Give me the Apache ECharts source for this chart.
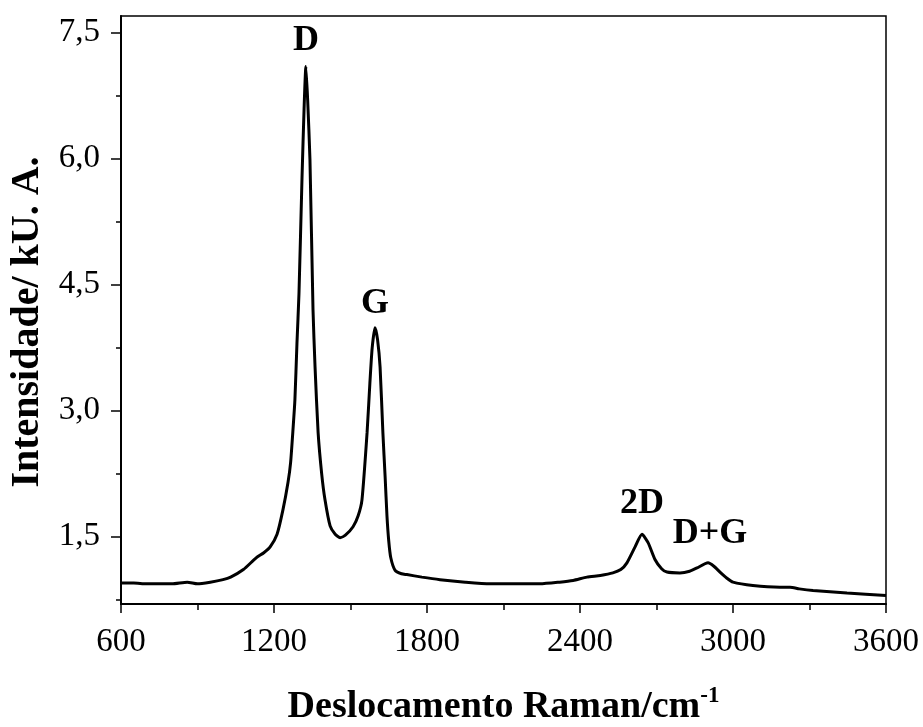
<!DOCTYPE html>
<html>
<head>
<meta charset="utf-8">
<script src="https://cdn.jsdelivr.net/npm/echarts@6/dist/echarts.min.js"></script>
<style>
  html, body { margin: 0; padding: 0; background: #fff; }
  #ramanChart { width: 923px; height: 727px; }
</style>
</head>
<body>
<div id="ramanChart"></div>
<script>
// Espectro Raman
const ramanShift = [600, 650, 700, 750, 800, 860, 900, 950, 1000, 1030, 1080, 1130, 1160, 1185,
  1212, 1235, 1255, 1265, 1275, 1282, 1290, 1298, 1310, 1318, 1325, 1332, 1341, 1353, 1361,
  1373, 1387, 1400, 1420, 1440, 1459, 1480, 1510, 1530, 1545, 1565, 1576, 1585, 1596, 1606,
  1616, 1627, 1636, 1643, 1650, 1658, 1675, 1700, 1721, 1780, 1851, 1950, 2047, 2150, 2243,
  2320, 2373, 2427, 2480, 2529, 2560, 2584, 2616, 2643, 2667, 2694, 2720, 2741, 2792, 2830,
  2859, 2902, 2925, 2949, 2975, 3000, 3078, 3184, 3224, 3260, 3314, 3447, 3600];
const intensity = [0.95, 0.95, 0.94, 0.94, 0.94, 0.96, 0.94, 0.96, 0.99, 1.02, 1.11, 1.25, 1.31, 1.38,
  1.53, 1.82, 2.15, 2.38, 2.80, 3.13, 3.80, 4.40, 5.79, 6.60, 7.10, 6.70, 5.99, 4.20, 3.52,
  2.74, 2.25, 1.94, 1.63, 1.53, 1.49, 1.52, 1.62, 1.75, 1.94, 2.74, 3.33, 3.75, 3.99, 3.85,
  3.52, 2.74, 2.20, 1.75, 1.45, 1.25, 1.10, 1.06, 1.05, 1.02, 0.99, 0.96, 0.94, 0.94, 0.94,
  0.96, 0.98, 1.02, 1.04, 1.07, 1.11, 1.19, 1.38, 1.53, 1.43, 1.23, 1.12, 1.08, 1.07, 1.09,
  1.13, 1.19, 1.15, 1.08, 1.01, 0.96, 0.92, 0.90, 0.90, 0.88, 0.86, 0.83, 0.80];

// rótulos das bandas (ponto = base do texto)
const peakNames = ['D', 'G', '2D', 'D+G'];
const peakX = [1325, 1596, 2643, 2910];
const peakY = [7.19, 4.05, 1.67, 1.32];

const yMajor = [1.5, 3.0, 4.5, 6.0, 7.5];
const yMinor = [0.75, 2.25, 3.75, 5.25, 6.75];

const serif = 'Liberation Serif';
var chart = echarts.init(document.getElementById('ramanChart'));

let line = [];
for (let i = 0; i < ramanShift.length; i++) {
  line.push([ramanShift[i], intensity[i]]);
}
let peaks = [];
for (let i = 0; i < peakNames.length; i++) {
  peaks.push({ name: peakNames[i], value: [peakX[i], peakY[i]] });
}

option = {
  backgroundColor: '#fff',
  animation: false,
  grid: {
    left: 121, right: 37, top: 16, bottom: 123,
    outerBoundsMode: 'none',
    show: true, borderColor: '#000', borderWidth: 1.5
  },
  xAxis: {
    type: 'value',
    min: 600, max: 3600, interval: 600,
    axisLine: { lineStyle: { color: '#000', width: 2 } },
    axisTick: { length: 9, lineStyle: { color: '#000', width: 1.5 } },
    minorTick: { show: true, splitNumber: 2, length: 6, lineStyle: { color: '#000', width: 1.5 } },
    splitLine: { show: false },
    axisLabel: {
      color: '#000', fontFamily: serif, fontSize: 33, margin: 22,
      formatter: function(v) { return String(v); }
    },
    name: '{t|Deslocamento Raman/cm}{s|-1}',
    nameLocation: 'middle',
    nameGap: 81,
    nameTextStyle: {
      rich: {
        t: { fontFamily: serif, fontWeight: 'bold', fontSize: 38, color: '#000' },
        s: { fontFamily: serif, fontWeight: 'bold', fontSize: 23, color: '#000', padding: [0, 0, 22, 0] }
      }
    }
  },
  yAxis: [{
    type: 'value',
    min: 0.7, max: 7.7,
    axisLine: { show: true, lineStyle: { color: '#000', width: 2 } },
    axisTick: { show: true, length: 10, customValues: yMajor, lineStyle: { color: '#000', width: 1.5 } },
    splitLine: { show: false },
    axisLabel: {
      color: '#000', fontFamily: serif, fontSize: 33, margin: 21,
      customValues: yMajor,
      formatter: function(v) { return v.toFixed(1).replace('.', ','); }
    },
    name: 'Intensidade/ kU. A.',
    nameLocation: 'middle',
    nameGap: 69,
    nameTextStyle: { fontFamily: serif, fontWeight: 'bold', fontSize: 40, color: '#000', padding: [0, 24, 0, 0] }
  }, {
    type: 'value',
    position: 'left',
    min: 0.7, max: 7.7,
    axisLine: { show: false },
    axisTick: { show: true, length: 5, customValues: yMinor, lineStyle: { color: '#000', width: 1.5 } },
    axisLabel: { show: false },
    splitLine: { show: false }
  }],
  series: [{
    type: 'line',
    data: line,
    showSymbol: false,
    smooth: 0.2,
    lineStyle: { color: '#000', width: 3 },
    z: 3
  }, {
    type: 'scatter',
    data: peaks,
    symbolSize: 1,
    itemStyle: { color: 'rgba(0,0,0,0)', opacity: 1 },
    label: {
      show: true,
      position: 'top',
      distance: 0,
      formatter: '{b}',
      fontFamily: serif, fontWeight: 'bold', fontSize: 36, color: '#000',
      textBorderWidth: 0
    }
  }]
};
chart.setOption(option);
</script>
</body>
</html>
